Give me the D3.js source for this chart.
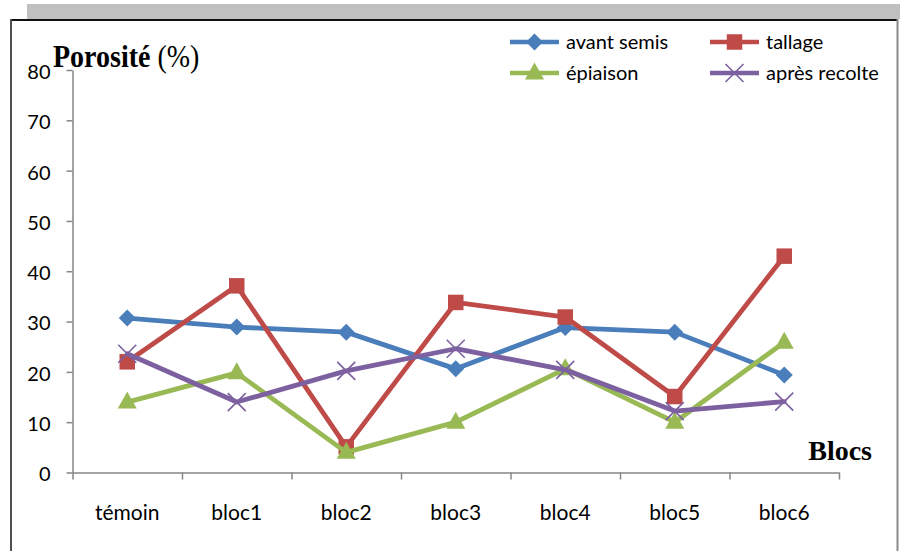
<!DOCTYPE html>
<html>
<head>
<meta charset="utf-8">
<script src="https://cdn.jsdelivr.net/npm/d3@7"></script>
<style>
  html, body { margin: 0; padding: 0; background: #fff; }
  svg { display: block; }
</style>
</head>
<body>
<svg id="chart" width="900" height="551"></svg>
<script>
// ---- DATA ----
const categories = ["témoin", "bloc1", "bloc2", "bloc3", "bloc4", "bloc5", "bloc6"];
const seriesNames = ["avant semis", "tallage", "épiaison", "après recolte"];
const avantSemis   = [30.7, 28.9, 27.9, 20.6, 28.8, 27.9, 19.4];
const tallage      = [22.0, 37.1, 5.1, 33.8, 30.9, 15.1, 43.0];
const epiaison     = [14.0, 19.8, 4.0, 10.0, 20.6, 10.0, 25.9];
const apresRecolte = [23.6, 14.0, 20.2, 24.6, 20.4, 12.2, 14.1];
const yTicks = [0, 10, 20, 30, 40, 50, 60, 70, 80];

const seriesValues = [avantSemis, tallage, epiaison, apresRecolte];
const colors = ["#4A7EBB", "#BE4B48", "#98B954", "#7D60A0"];
const markerTypes = ["diamond", "square", "triangle", "x"];

const svg = d3.select("#chart");

// ---- FRAME ----
svg.append("rect").attr("x", 0).attr("y", 0).attr("width", 900).attr("height", 551).attr("fill", "#fff");
svg.append("rect").attr("x", 27).attr("y", 4).attr("width", 873).attr("height", 15).attr("fill", "#c0c0c0");
svg.append("line").attr("x1", 10).attr("x2", 898).attr("y1", 20).attr("y2", 20)
  .attr("stroke", "#111").attr("stroke-width", 2);
svg.append("line").attr("x1", 11).attr("x2", 11).attr("y1", 19).attr("y2", 551)
  .attr("stroke", "#505050").attr("stroke-width", 2);
svg.append("line").attr("x1", 897.5).attr("x2", 897.5).attr("y1", 19).attr("y2", 551)
  .attr("stroke", "#8a8a8a").attr("stroke-width", 2);

// ---- SCALES ----
const plotLeft = 72.5, plotRight = 839, plotTop = 70, plotBottom = 472.5;
const x = d3.scaleBand().domain(categories).range([plotLeft, plotRight]).paddingInner(0).paddingOuter(0);
const xEdges = d3.scaleLinear().domain([0, categories.length]).range([plotLeft, plotRight]);
const y = d3.scaleLinear().domain([0, 80]).range([plotBottom, plotTop]);
const cx = c => x(c) + x.bandwidth() / 2;

const axisColor = "#868686";
const tickFont = "Lato, 'Open Sans', sans-serif";

// Y axis
const yAxis = svg.append("g").attr("transform", `translate(${plotLeft},0)`)
  .call(d3.axisLeft(y).tickValues(yTicks).tickSize(6).tickSizeOuter(0).tickPadding(16));
yAxis.select(".domain").attr("stroke", axisColor).attr("stroke-width", 1.5);
yAxis.selectAll(".tick line").attr("stroke", axisColor).attr("stroke-width", 1.5);
yAxis.selectAll(".tick text").attr("font-family", tickFont).attr("font-size", 20).attr("fill", "#000")
  .attr("dy", "0.42em");

// X axis: tick marks at band edges
const xAxisEdges = svg.append("g").attr("transform", `translate(0,${plotBottom})`)
  .call(d3.axisBottom(xEdges).tickValues(d3.range(categories.length + 1)).tickSize(7).tickSizeOuter(0).tickFormat(""));
xAxisEdges.select(".domain").attr("stroke", axisColor).attr("stroke-width", 1.5);
xAxisEdges.selectAll(".tick line").attr("stroke", axisColor).attr("stroke-width", 1.5);

// X axis labels at band centers
const xAxisLabels = svg.append("g").attr("transform", `translate(0,${plotBottom})`)
  .call(d3.axisBottom(x).tickSize(0).tickPadding(33));
xAxisLabels.select(".domain").remove();
xAxisLabels.selectAll(".tick text").attr("font-family", tickFont).attr("font-size", 21).attr("fill", "#000");

// ---- MARKERS ----
function drawMarker(g, type, px, py, color) {
  if (type === "diamond") {
    const r = 8.5;
    g.append("path").attr("d", `M${px},${py - r}L${px + r},${py}L${px},${py + r}L${px - r},${py}Z`).attr("fill", color);
  } else if (type === "square") {
    const s = 15.5;
    g.append("rect").attr("x", px - s / 2).attr("y", py - s / 2).attr("width", s).attr("height", s).attr("fill", color);
  } else if (type === "triangle") {
    const hw = 9.5, h = 17;
    g.append("path").attr("d", `M${px},${py - h * 0.62}L${px + hw},${py + h * 0.38}L${px - hw},${py + h * 0.38}Z`).attr("fill", color);
  } else if (type === "x") {
    const r = 9;
    g.append("path").attr("d", `M${px - r},${py - r}L${px + r},${py + r}M${px - r},${py + r}L${px + r},${py - r}`)
      .attr("stroke", color).attr("stroke-width", 1.6).attr("fill", "none");
  }
}

// ---- SERIES ----
const line = d3.line().x((d, i) => cx(categories[i])).y(d => y(d));
seriesValues.forEach((vals, si) => {
  const g = svg.append("g");
  g.append("path").datum(vals).attr("d", line).attr("fill", "none")
    .attr("stroke", colors[si]).attr("stroke-width", 4.8).attr("stroke-linejoin", "round").attr("stroke-linecap", "round");
  vals.forEach((v, i) => drawMarker(g, markerTypes[si], cx(categories[i]), y(v), colors[si]));
});

// ---- LEGEND ----
const legendPos = [
  { lx: 510, ly: 42 }, { lx: 710, ly: 42 },
  { lx: 510, ly: 73 }, { lx: 710, ly: 73 }
];
seriesNames.forEach((name, si) => {
  const p = legendPos[si];
  const g = svg.append("g");
  g.append("line").attr("x1", p.lx).attr("x2", p.lx + 49).attr("y1", p.ly).attr("y2", p.ly)
    .attr("stroke", colors[si]).attr("stroke-width", 4.5);
  drawMarker(g, markerTypes[si], p.lx + 24.5, p.ly, colors[si]);
  g.append("text").attr("x", p.lx + 56).attr("y", p.ly).attr("dy", "0.35em")
    .attr("font-family", tickFont).attr("font-size", 20).attr("fill", "#000").text(name);
});

// ---- AXIS TITLES ----
const title = svg.append("text").attr("transform", "translate(53,66.5) scale(1,1.12)")
  .attr("font-family", "'Liberation Serif', 'Times New Roman', serif").attr("font-size", 28).attr("fill", "#000");
title.append("tspan").attr("font-weight", "bold").text("Porosité");
title.append("tspan").attr("font-weight", "normal").text(" (%)");

svg.append("text").attr("x", 872).attr("y", 460).attr("text-anchor", "end")
  .attr("font-family", "'Liberation Serif', 'Times New Roman', serif").attr("font-size", 28)
  .attr("font-weight", "bold").attr("fill", "#000").text("Blocs");
</script>
</body>
</html>
